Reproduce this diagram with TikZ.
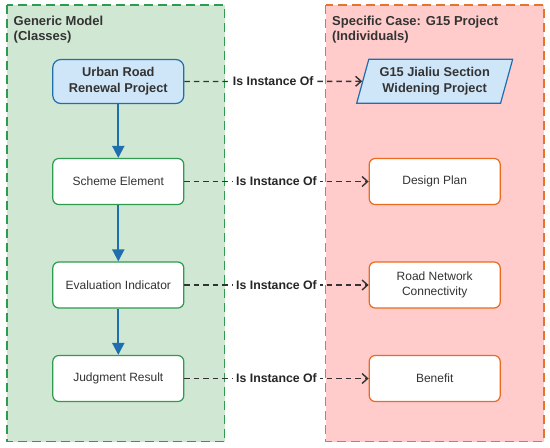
\documentclass[tikz,border=0pt]{standalone}
\usepackage{fontspec}
\setmainfont{Liberation Sans}
\usetikzlibrary{shapes.geometric,arrows.meta}
\definecolor{gfill}{HTML}{D0E8D3}
\definecolor{gline}{HTML}{2E9B4E}
\definecolor{rfill}{HTML}{FFCCCB}
\definecolor{rline}{HTML}{E4752F}
\definecolor{bfill}{HTML}{CFE6F9}
\definecolor{bline}{HTML}{1F6EAE}
\definecolor{txt}{HTML}{333333}
\definecolor{oline}{HTML}{EA6A1E}
\tikzset{
  container/.style={draw, line width=1.5pt, dash pattern=on 9pt off 5pt},
  classbox/.style={draw=gline, line width=1.2pt, fill=white, rounded corners=6pt,
    minimum width=131pt, minimum height=46pt, align=center, text=txt,
    font=\fontsize{12}{14.5}\selectfont, inner sep=2pt},
  indbox/.style={classbox, draw=oline},
  flow/.style={draw=bline, line width=2pt, -{Triangle[length=12pt,width=12pt]}},
  inst/.style={draw=txt, line width=1.4pt, dash pattern=on 5.5pt off 4pt,
    -{Straight Barb[length=5.5pt,width=10pt,line width=1.4pt]}},
  instlabel/.style={fill=white, inner sep=3pt, text=black!85,
    font=\bfseries\fontsize{12.3}{14}\selectfont},
  title/.style={anchor=north west, align=left, text=txt,
    font=\bfseries\fontsize{13}{15.5}\selectfont, inner sep=0pt},
}
\begin{document}
\begin{tikzpicture}[x=1pt,y=-1pt]
\useasboundingbox (0,0) rectangle (550,448);
% containers
\path[container, draw=gline, fill=gfill] (7,5) rectangle (224.5,441.5);
\path[container, draw=rline, fill=rfill] (325.7,5) rectangle (544,441.5);
\node[title] (tl) at (13.5,15.5) {Generic Model\\(Classes)};
\node[title] (tr) at (332,15.5) {Specific Case: G15 Project\\(Individuals)};
% class nodes
\node[classbox, draw=bline, fill=bfill, rounded corners=8pt, minimum height=44pt,
  font=\bfseries\fontsize{12.8}{16}\selectfont] (urp) at (118.3,81.5) {Urban Road\\Renewal Project};
\node[classbox] (se) at (118.3,181.5) {Scheme Element};
\node[classbox] (ei) at (118.3,285) {Evaluation Indicator};
\node[classbox] (jr) at (118.3,378.5) {Judgment Result};
% individual nodes
\node[trapezium, trapezium stretches=true, trapezium left angle=71, trapezium right angle=109,
  draw=bline, line width=1.2pt, fill=bfill, minimum width=156pt, minimum height=44pt,
  align=center, text=txt, inner sep=1pt,
  font=\bfseries\fontsize{12.8}{16}\selectfont] (g15) at (434.7,81.2) {G15 Jialiu Section\\Widening Project};
\node[indbox] (dp) at (434.7,181.5) {Design Plan};
\node[indbox] (rnc) at (434.7,285) {Road Network\\Connectivity};
\node[indbox] (bf) at (434.7,378.5) {Benefit};
% flow arrows
\draw[flow] (urp) -- (se);
\draw[flow] (se) -- (ei);
\draw[flow] (ei) -- (jr);
% instance arrows
\draw[inst] (urp.east) -- node[instlabel] {Is Instance Of} (g15);
\draw[inst] (se.east) -- node[instlabel] {Is Instance Of} (dp.west);
\draw[inst] (ei.east) -- node[instlabel] {Is Instance Of} (rnc.west);
\draw[inst] (jr.east) -- node[instlabel] {Is Instance Of} (bf.west);
\end{tikzpicture}
\end{document}
